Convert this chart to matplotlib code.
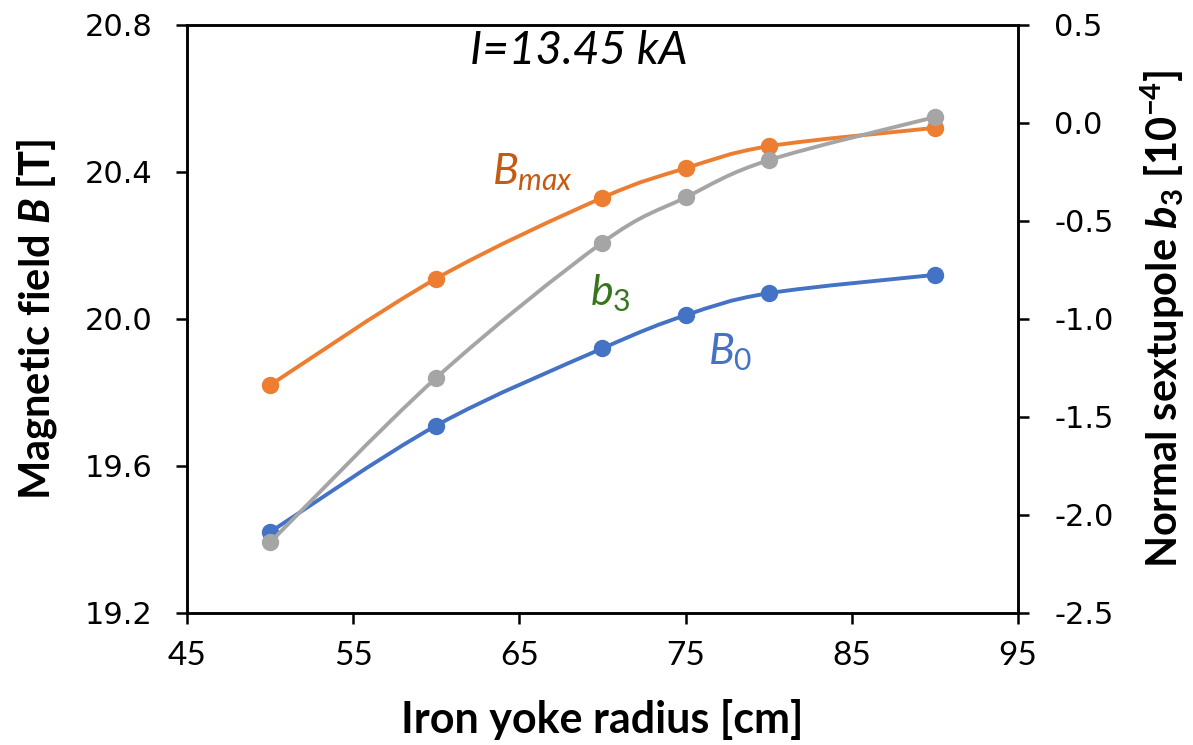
import matplotlib
matplotlib.use("Agg")
import matplotlib.pyplot as plt
from matplotlib.path import Path
from matplotlib.patches import PathPatch
import numpy as np

plt.rcParams['mathtext.fontset'] = 'custom'
plt.rcParams['mathtext.rm'] = 'Lato'
plt.rcParams['mathtext.it'] = 'Lato:italic'
plt.rcParams['mathtext.bf'] = 'Lato:bold'
plt.rcParams['mathtext.bfit'] = 'Lato:bold:italic'

# data
radius = [50, 60, 70, 75, 80, 90]
b_max = [19.82, 20.11, 20.33, 20.41, 20.47, 20.52]
b_zero = [19.42, 19.71, 19.92, 20.01, 20.07, 20.12]
b3 = [-2.14, -1.30, -0.61, -0.38, -0.19, 0.03]

x_ticks = [45, 55, 65, 75, 85, 95]
left_ticks = [19.2, 19.6, 20.0, 20.4, 20.8]
right_ticks = [-2.5, -2.0, -1.5, -1.0, -0.5, 0.0, 0.5]

c_orange = "#ED7D31"
c_blue = "#4472C4"
c_gray = "#A5A5A5"


def smooth_path(x, y):
    # excel-style smoothed line: cubic bezier through the points
    pts = np.column_stack([x, y]).astype(float)
    p = np.vstack([pts[0], pts, pts[-1]])
    verts = [pts[0]]
    codes = [Path.MOVETO]
    for i in range(1, len(p) - 2):
        c1 = p[i] + (p[i + 1] - p[i - 1]) / 6
        c2 = p[i + 1] - (p[i + 2] - p[i]) / 6
        verts += [c1, c2, p[i + 1]]
        codes += [Path.CURVE4] * 3
    return Path(verts, codes)


def draw_series(ax, x, y, color):
    ax.add_patch(PathPatch(smooth_path(x, y), facecolor="none", edgecolor=color,
                           lw=2.8, zorder=2, capstyle="round"))
    ax.plot(x, y, "o", ms=11.5, color=color, zorder=3)


fig = plt.figure(figsize=(11.93, 7.45), dpi=100)
ax = fig.add_axes([0.1567, 0.1772, 0.6966, 0.7893])
ax2 = ax.twinx()

draw_series(ax, radius, b_max, c_orange)
draw_series(ax, radius, b_zero, c_blue)
draw_series(ax2, radius, b3, c_gray)

ax.set_xlim(45, 95)
ax.set_ylim(19.2, 20.8)
ax2.set_ylim(-2.5, 0.5)
ax.set_xticks(x_ticks)
ax.set_yticks(left_ticks)
ax.set_yticklabels([f"{v:.1f}" for v in left_ticks], family="DejaVu Sans", fontsize=22)
ax2.set_yticks(right_ticks)
ax2.set_yticklabels([f"{v:.1f}".replace("\u2212", "-") for v in right_ticks],
                    family="DejaVu Sans", fontsize=22)
ax.set_xticklabels([str(v) for v in x_ticks], family="Lato", fontsize=24)

for a in (ax, ax2):
    for s in a.spines.values():
        s.set_linewidth(1.8)
ax.tick_params(axis="y", direction="out", length=8, width=1.8, pad=17)
ax2.tick_params(axis="y", direction="out", length=8, width=1.8, pad=18)
ax.tick_params(axis="x", direction="out", length=8, width=1.8, pad=12)

ax.set_xlabel("Iron yoke radius [cm]", family="Lato", fontweight="bold", fontsize=31, labelpad=20)
ax.set_ylabel(r"Magnetic field $\mathbfit{B}$ [T]", family="Lato", fontweight="bold",
              fontsize=30, labelpad=18)
ax2.set_ylabel(r"Normal sextupole $\mathbfit{b}_{\mathbf{3}}$ [10$^{\mathbf{-4}}$]", family="Lato",
               fontweight="bold", fontsize=30, rotation=90, labelpad=18)

ax.text(68.6, 20.73, "I=13.45 kA", family="Lato", style="italic", fontsize=33,
        ha="center", va="center")
ax.text(65.8, 20.40, r"$B_{max}$", color="#C55A11", fontsize=31, ha="center", va="center")
ax.text(70.5, 20.07, r"$\mathit{b_3}$", color="#38761D", fontsize=31, ha="center", va="center")
ax.text(77.7, 19.91, r"$\mathit{B_0}$", color=c_blue, fontsize=31, ha="center", va="center")

fig.savefig("out.png", dpi=100)
